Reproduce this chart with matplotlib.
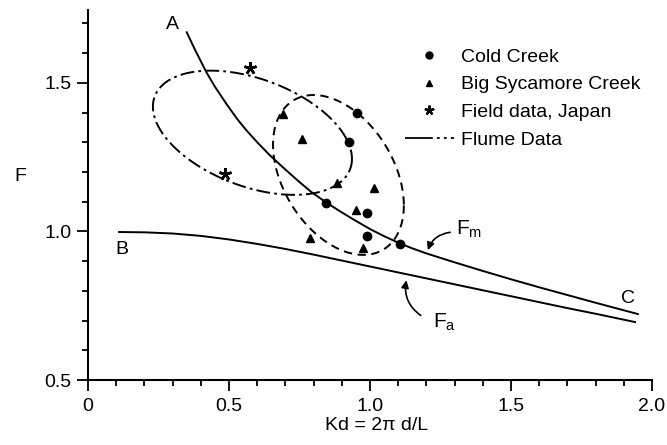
import numpy as np
import matplotlib
matplotlib.use("Agg")
import matplotlib.pyplot as plt
from matplotlib.ticker import MultipleLocator
from matplotlib.lines import Line2D

plt.rcParams['font.family'] = ['Liberation Sans', 'DejaVu Sans']
plt.rcParams['font.size'] = 14
plt.rcParams['mathtext.default'] = 'regular'
plt.rcParams['lines.scale_dashes'] = False

# theoretical curves (A-C is F_m, B-C is F_a)
fm_kd = [0.35, 0.38, 0.42, 0.45, 0.49, 0.53, 0.56, 0.60, 0.645, 0.70, 0.75,
         0.79, 0.845, 0.90, 0.94, 1.0, 1.05, 1.105, 1.15, 1.2, 1.3, 1.4,
         1.5, 1.6, 1.7, 1.8, 1.95]
fm_f = [1.67, 1.61, 1.535, 1.487, 1.43, 1.377, 1.342, 1.30, 1.256, 1.208,
        1.166, 1.134, 1.097, 1.064, 1.041, 1.008, 0.984, 0.960, 0.943, 0.926,
        0.896, 0.867, 0.839, 0.812, 0.786, 0.760, 0.722]
fa_kd = [0.11, 0.2, 0.3, 0.4, 0.5, 0.6, 0.7, 0.8, 0.9, 1.0, 1.1, 1.2, 1.3,
         1.4, 1.5, 1.6, 1.7, 1.8, 1.94]
fa_f = [0.998, 0.997, 0.993, 0.985, 0.973, 0.958, 0.941, 0.922, 0.902,
        0.882, 0.862, 0.842, 0.822, 0.802, 0.782, 0.762, 0.742, 0.723, 0.695]

# field measurements
cold_kd = [0.954, 0.926, 0.844, 0.989, 0.989, 1.106]
cold_f = [1.399, 1.301, 1.097, 1.062, 0.985, 0.958]
syc_kd = [0.691, 0.759, 0.883, 1.014, 0.950, 0.787, 0.975]
syc_f = [1.396, 1.311, 1.163, 1.146, 1.072, 0.978, 0.944]
japan_kd = [0.574, 0.486]
japan_f = [1.551, 1.194]

# envelopes: centre kd, centre F, half-width, half-height, phase
flume_env = (0.583, 1.332, 0.353, 0.209, 0.433)
syc_env = (0.888, 1.190, 0.232, 0.269, 0.39)

asterisk = (5, 2, 0)


def envelope(cx, cy, rx, ry, ph):
    t = np.linspace(0, 2 * np.pi, 300)
    return cx + rx * np.cos(t), cy - ry * np.sin(t + ph)


fig = plt.figure(figsize=(6.67, 4.45), dpi=100)
ax = fig.add_axes([0.132, 0.146, 0.8455, 0.8315])

ax.plot(fm_kd, fm_f, color='black', lw=1.4)
ax.plot(fa_kd, fa_f, color='black', lw=1.4)

ex, ey = envelope(*flume_env)
ax.plot(ex, ey, color='black', lw=1.4, dashes=(10, 3, 2, 3))
ex, ey = envelope(*syc_env)
ax.plot(ex, ey, color='black', lw=1.4, dashes=(6, 4))

ax.plot(cold_kd, cold_f, 'o', color='black', ms=6)
ax.plot(syc_kd, syc_f, '^', color='black', ms=6)
ax.plot(japan_kd, japan_f, marker=asterisk, ls='none', color='black',
        ms=9, mew=1.8)

ax.text(0.30, 1.695, 'A', ha='center', va='center')
ax.text(0.121, 0.938, 'B', ha='center', va='center')
ax.text(1.915, 0.776, 'C', ha='center', va='center')

ax.text(1.305, 0.988, 'F$_m$', ha='left', va='baseline', fontsize=15)
ax.annotate('', xy=(1.202, 0.928), xytext=(1.294, 0.998),
            arrowprops=dict(arrowstyle='-|>', color='black', lw=1.2,
                            mutation_scale=11,
                            connectionstyle='arc3,rad=0.35'))
ax.text(1.222, 0.675, 'F$_a$', ha='left', va='baseline', fontsize=15)
ax.annotate('', xy=(1.131, 0.845), xytext=(1.188, 0.712),
            arrowprops=dict(arrowstyle='-|>', color='black', lw=1.2,
                            mutation_scale=11,
                            connectionstyle='arc3,rad=-0.35'))

handles = [
    Line2D([], [], ls='none', marker='o', color='black', ms=5),
    Line2D([], [], ls='none', marker='^', color='black', ms=5),
    Line2D([], [], ls='none', marker=asterisk, color='black', ms=7, mew=1.6),
    Line2D([], [], color='black', lw=1.3, dashes=(20, 3, 2, 3, 2, 3)),
]
labels = ['Cold Creek', 'Big Sycamore Creek', 'Field data, Japan', 'Flume Data']
ax.legend(handles, labels, loc='upper left', bbox_to_anchor=(0.562, 0.897),
          frameon=False, borderaxespad=0, borderpad=0, handlelength=2.5,
          handletextpad=0.36, labelspacing=0.52)

ax.set_xlim(0, 2.0)
ax.set_ylim(0.5, 1.745)
ax.xaxis.set_minor_locator(MultipleLocator(0.1))
ax.yaxis.set_minor_locator(MultipleLocator(0.1))
ax.set_xticks([0, 0.5, 1.0, 1.5, 2.0])
ax.set_xticklabels(['0', '0.5', '1.0', '1.5', '2.0'])
ax.set_yticks([0.5, 1.0, 1.5])
ax.set_yticklabels(['0.5', '1.0', '1.5'])
ax.tick_params(which='major', direction='out', length=8, width=1.3)
ax.tick_params(which='minor', direction='out', length=4.5, width=1.3)
ax.tick_params(axis='x', which='major', pad=5)
ax.tick_params(axis='y', which='major', pad=4)

for side in ['top', 'right']:
    ax.spines[side].set_visible(False)
for side in ['left', 'bottom']:
    ax.spines[side].set_linewidth(1.5)

ax.set_xlabel('Kd = 2\u03c0 d/L')
ax.xaxis.set_label_coords(0.512, -0.1)
ax.set_ylabel('F', rotation=0, ha='center', va='center')
ax.yaxis.set_label_coords(-0.12, 0.549)

fig.savefig('out.png', dpi=100)
